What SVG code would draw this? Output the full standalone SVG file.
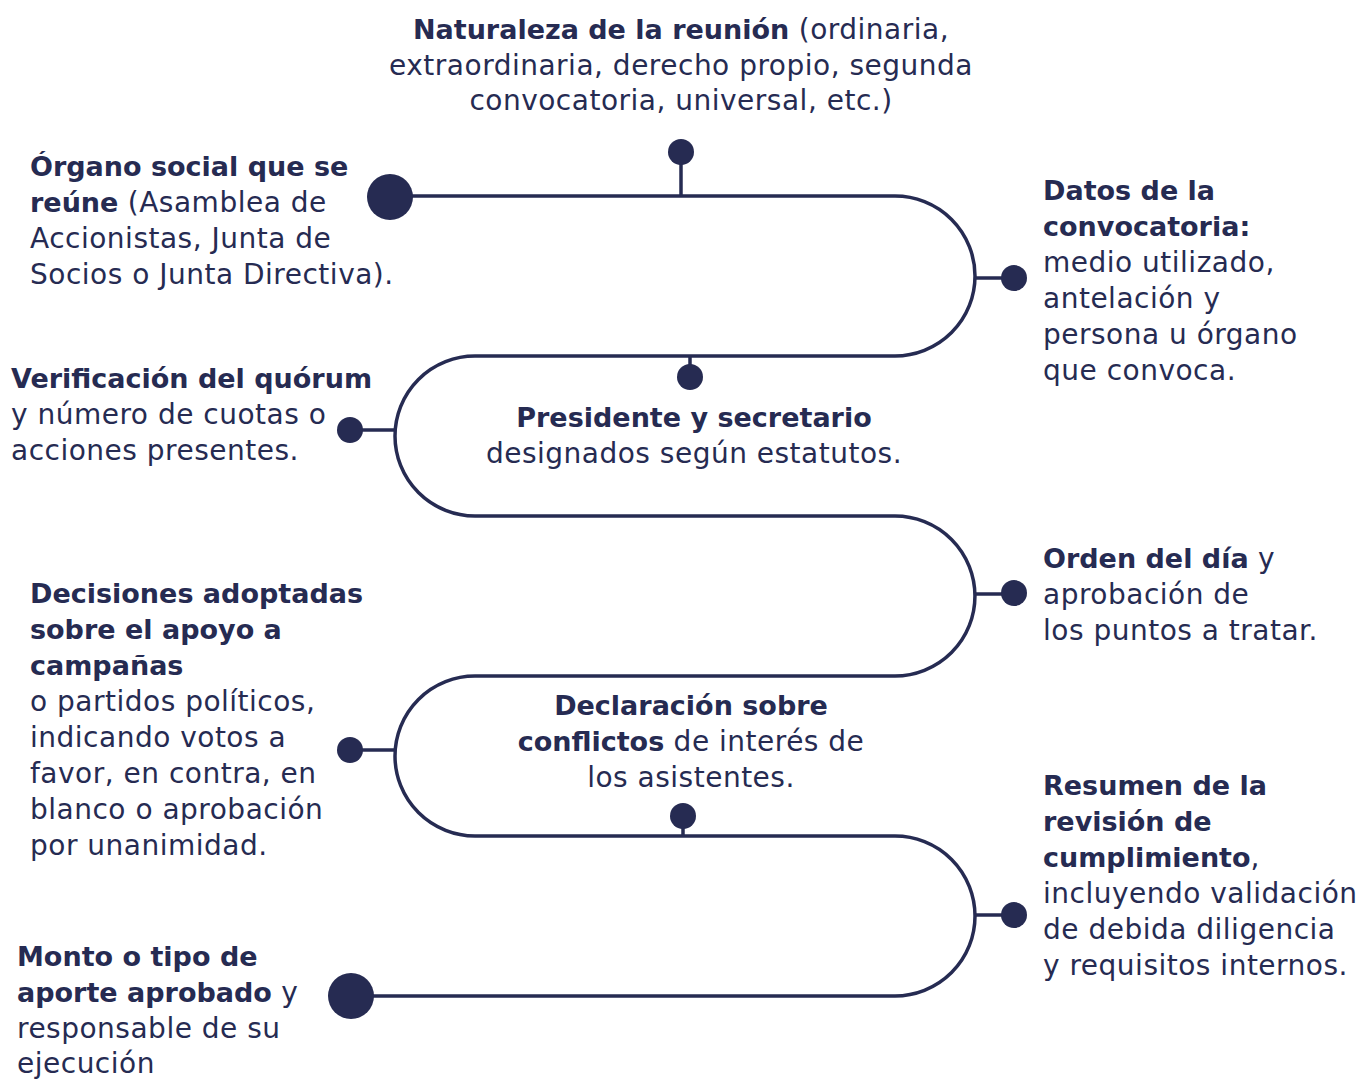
<svg xmlns="http://www.w3.org/2000/svg" width="1364" height="1079" viewBox="0 0 1364 1079">
<style>
text{font-family:"DejaVu Sans",Inter,sans-serif;font-size:28px;letter-spacing:0.5px;fill:#262b52}
.b{font-weight:700;font-size:27px;letter-spacing:0}
.c{text-anchor:middle}
.ln{fill:none;stroke:#262b52;stroke-width:3.5}
.d{fill:#262b52}
</style>
<rect width="1364" height="1079" fill="#fff"/>
<g id="connectors">
<path class="ln" d="M390 196 H895 A80 80 0 0 1 895 356 H475 A80 80 0 0 0 475 516 H895 A80 80 0 0 1 895 676 H475 A80 80 0 0 0 475 836 H895 A80 80 0 0 1 895 996 H351"/>
<line class="ln" x1="681" y1="152" x2="681" y2="196"/>
<line class="ln" x1="690" y1="356" x2="690" y2="377"/>
<line class="ln" x1="683" y1="816" x2="683" y2="836"/>
<line class="ln" x1="975" y1="278" x2="1014" y2="278"/>
<line class="ln" x1="350" y1="430" x2="395" y2="430"/>
<line class="ln" x1="975" y1="594" x2="1014" y2="594"/>
<line class="ln" x1="350" y1="750" x2="395" y2="750"/>
<line class="ln" x1="975" y1="915" x2="1014" y2="915"/>
</g>
<g id="n-naturaleza">
<circle class="d" cx="681" cy="152" r="13"/>
<text class="c" x="681" y="39"><tspan class="b">Naturaleza de la reunión</tspan> (ordinaria,</text>
<text class="c" x="681" y="75">extraordinaria, derecho propio, segunda</text>
<text class="c" x="681" y="110">convocatoria, universal, etc.)</text>
</g>
<g id="n-organo">
<circle class="d" cx="390" cy="197" r="23"/>
<text x="30" y="176"><tspan class="b">Órgano social que se</tspan></text>
<text x="30" y="212"><tspan class="b">reúne</tspan> (Asamblea de</text>
<text x="30" y="248">Accionistas, Junta de</text>
<text x="30" y="284">Socios o Junta Directiva).</text>
</g>
<g id="n-datos">
<circle class="d" cx="1014" cy="278" r="13"/>
<text x="1043" y="200" class="b">Datos de la</text>
<text x="1043" y="236" class="b">convocatoria:</text>
<text x="1043" y="272">medio utilizado,</text>
<text x="1043" y="308">antelación y</text>
<text x="1043" y="344">persona u órgano</text>
<text x="1043" y="380">que convoca.</text>
</g>
<g id="n-quorum">
<circle class="d" cx="350" cy="430" r="13"/>
<text x="11" y="388" class="b">Verificación del quórum</text>
<text x="11" y="424">y número de cuotas o</text>
<text x="11" y="460">acciones presentes.</text>
</g>
<g id="n-presidente">
<circle class="d" cx="690" cy="377" r="13"/>
<text class="c b" x="694" y="427">Presidente y secretario</text>
<text class="c" x="694" y="463">designados según estatutos.</text>
</g>
<g id="n-orden">
<circle class="d" cx="1014" cy="593" r="13"/>
<text x="1043" y="568"><tspan class="b">Orden del día</tspan> y</text>
<text x="1043" y="604">aprobación de</text>
<text x="1043" y="640">los puntos a tratar.</text>
</g>
<g id="n-decisiones">
<circle class="d" cx="350" cy="750" r="13"/>
<text x="30" y="603" class="b">Decisiones adoptadas</text>
<text x="30" y="639" class="b">sobre el apoyo a</text>
<text x="30" y="675" class="b">campañas</text>
<text x="30" y="711">o partidos políticos,</text>
<text x="30" y="747">indicando votos a</text>
<text x="30" y="783">favor, en contra, en</text>
<text x="30" y="819">blanco o aprobación</text>
<text x="30" y="855">por unanimidad.</text>
</g>
<g id="n-declaracion">
<circle class="d" cx="683" cy="816" r="13"/>
<text class="c b" x="691" y="715">Declaración sobre</text>
<text class="c" x="691" y="751"><tspan class="b">conflictos</tspan> de interés de</text>
<text class="c" x="691" y="787">los asistentes.</text>
</g>
<g id="n-resumen">
<circle class="d" cx="1014" cy="915" r="13"/>
<text x="1043" y="795" class="b">Resumen de la</text>
<text x="1043" y="831" class="b">revisión de</text>
<text x="1043" y="867"><tspan class="b">cumplimiento</tspan>,</text>
<text x="1043" y="903">incluyendo validación</text>
<text x="1043" y="939">de debida diligencia</text>
<text x="1043" y="975">y requisitos internos.</text>
</g>
<g id="n-monto">
<circle class="d" cx="351" cy="996" r="23"/>
<text x="17" y="966" class="b">Monto o tipo de</text>
<text x="17" y="1002"><tspan class="b">aporte aprobado</tspan> y</text>
<text x="17" y="1038">responsable de su</text>
<text x="17" y="1073">ejecución</text>
</g>
</svg>
